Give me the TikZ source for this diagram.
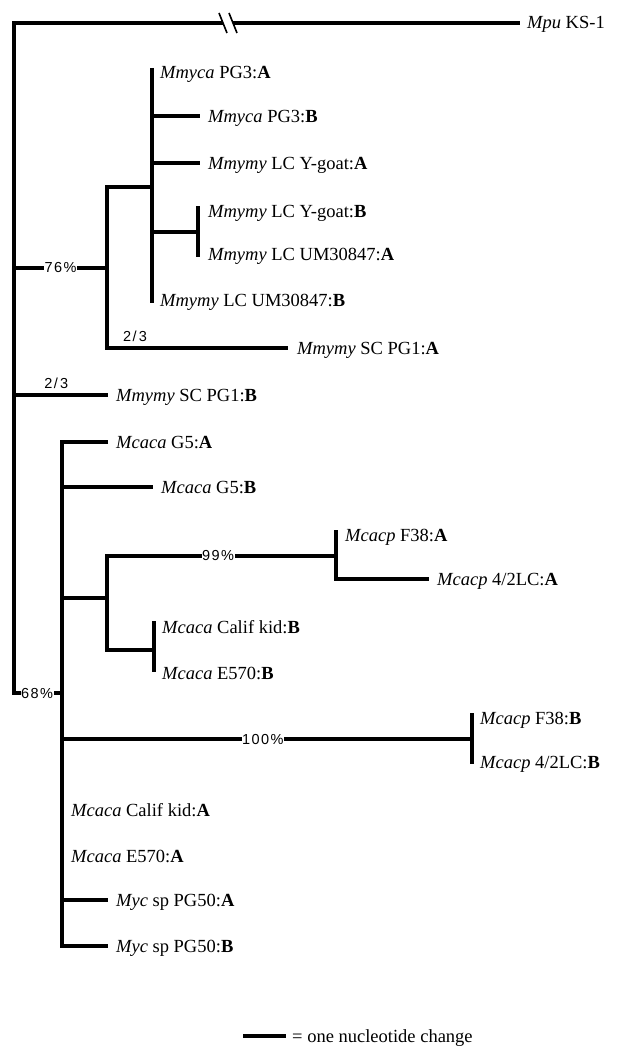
\documentclass[tikz,border=0pt]{standalone}
\usepackage{fontspec}
\setmainfont{Liberation Serif}
\newfontfamily\labfont[LetterSpace=10]{Liberation Sans}
\begin{document}
\begin{tikzpicture}[x=1pt,y=-1pt,
  br/.style={line width=4.8pt, line join=miter},
  slash/.style={line width=1.6pt},
  leaf/.style={anchor=base west, inner sep=0pt, font=\fontsize{18.5}{21}\selectfont},
  pct/.style={font=\labfont\fontsize{14.5}{16}\selectfont, fill=white, inner sep=0.5pt},
  frac/.style={font=\labfont\fontsize{14.5}{16}\selectfont, inner sep=1pt}]
\useasboundingbox[fill=white] (0,0) rectangle (621,1046);
% coordinates
\coordinate (R) at (14,23);
\coordinate (brk1) at (223,23);
\coordinate (brk2) at (233,23);
\coordinate (mpuE) at (520,23);
\coordinate (rootend) at (14,693);
\coordinate (r76) at (14,268);
\coordinate (n76) at (107,268);
\coordinate (a187) at (107,187);
\coordinate (a348) at (107,348);
\coordinate (e348) at (288,348);
\coordinate (m187) at (152,187);
\coordinate (mtop) at (152,68);
\coordinate (mbot) at (152,303);
\coordinate (m116) at (152,116);
\coordinate (e116) at (200,116);
\coordinate (m163) at (152,163);
\coordinate (e163) at (200,163);
\coordinate (m232) at (152,232);
\coordinate (y232) at (198,232);
\coordinate (ytop) at (198,206);
\coordinate (ybot) at (198,257);
\coordinate (r395) at (14,395);
\coordinate (e395) at (108,395);
\coordinate (c693) at (62,693);
\coordinate (ctop) at (62,442);
\coordinate (e442) at (108,442);
\coordinate (cbot) at (62,946);
\coordinate (e946) at (108,946);
\coordinate (c900) at (62,900);
\coordinate (e900) at (108,900);
\coordinate (c487) at (62,487);
\coordinate (e487) at (153,487);
\coordinate (c598) at (62,598);
\coordinate (s598) at (107,598);
\coordinate (stop) at (107,556);
\coordinate (sbot) at (107,650);
\coordinate (p556) at (336,556);
\coordinate (ptop) at (336,530);
\coordinate (p579) at (336,579);
\coordinate (e579) at (429,579);
\coordinate (k650) at (154,650);
\coordinate (ktop) at (154,621);
\coordinate (kbot) at (154,672);
\coordinate (c739) at (62,739);
\coordinate (q739) at (472,739);
\coordinate (qtop) at (472,713);
\coordinate (qbot) at (472,764);
\coordinate (lb1) at (243,1036);
\coordinate (lb2) at (286,1036);
% branches
\draw[br] (brk1) -- (R) -- (rootend) -- node[pct,pos=0.48]{68\%} (c693);
\draw[br] (brk2) -- (mpuE);
\draw[slash] (219,13) -- (227,33);
\draw[slash] (229,13) -- (237,33);
\draw[br] (r76) -- node[pct,pos=0.5]{76\%} (n76);
\draw[br] (m187) -- (a187) -- (a348) -- node[frac,pos=0.155,above=3pt]{2/\,3} (e348);
\draw[br] (mtop) -- (mbot);
\draw[br] (m116) -- (e116);
\draw[br] (m163) -- (e163);
\draw[br] (m232) -- (y232);
\draw[br] (ytop) -- (ybot);
\draw[br] (r395) -- node[frac,pos=0.45,above=3pt]{2/\,3} (e395);
\draw[br] (e442) -- (ctop) -- (cbot) -- (e946);
\draw[br] (c487) -- (e487);
\draw[br] (c900) -- (e900);
\draw[br] (c598) -- (s598);
\draw[br] (p556) -- node[pct,pos=0.515]{99\%} (stop) -- (sbot) -- (k650);
\draw[br] (ptop) -- (p579) -- (e579);
\draw[br] (ktop) -- (kbot);
\draw[br] (c739) -- node[pct,pos=0.49]{100\%} (q739);
\draw[br] (qtop) -- (qbot);
% leaves
\node[leaf] (mpu) at (527,29) {\textit{Mpu} KS-1};
\node[leaf] (t1) at (160,79) {\textit{Mmyca} PG3:\textbf{A}};
\node[leaf] (t2) at (208,122) {\textit{Mmyca} PG3:\textbf{B}};
\node[leaf] (t3) at (208,169) {\textit{Mmymy} LC Y-goat:\textbf{A}};
\node[leaf] (t4) at (208,217) {\textit{Mmymy} LC Y-goat:\textbf{B}};
\node[leaf] (t5) at (208,260) {\textit{Mmymy} LC UM30847:\textbf{A}};
\node[leaf] (t6) at (160,306) {\textit{Mmymy} LC UM30847:\textbf{B}};
\node[leaf] (t7) at (297,354) {\textit{Mmymy} SC PG1:\textbf{A}};
\node[leaf] (t8) at (116,401) {\textit{Mmymy} SC PG1:\textbf{B}};
\node[leaf] (t9) at (116,448) {\textit{Mcaca} G5:\textbf{A}};
\node[leaf] (t10) at (161,493) {\textit{Mcaca} G5:\textbf{B}};
\node[leaf] (t11) at (345,541) {\textit{Mcacp} F38:\textbf{A}};
\node[leaf] (t12) at (437,585) {\textit{Mcacp} 4/2LC:\textbf{A}};
\node[leaf] (t13) at (162,633) {\textit{Mcaca} Calif kid:\textbf{B}};
\node[leaf] (t14) at (162,679) {\textit{Mcaca} E570:\textbf{B}};
\node[leaf] (t15) at (480,724) {\textit{Mcacp} F38:\textbf{B}};
\node[leaf] (t16) at (480,768) {\textit{Mcacp} 4/2LC:\textbf{B}};
\node[leaf] (t17) at (71,816) {\textit{Mcaca} Calif kid:\textbf{A}};
\node[leaf] (t18) at (71,862) {\textit{Mcaca} E570:\textbf{A}};
\node[leaf] (t19) at (116,906) {\textit{Myc} sp PG50:\textbf{A}};
\node[leaf] (t20) at (116,952) {\textit{Myc} sp PG50:\textbf{B}};
% legend
\draw[br] (lb1) -- (lb2);
\node[leaf] (leg) at (292,1042) {= one nucleotide change};
\end{tikzpicture}
\end{document}
